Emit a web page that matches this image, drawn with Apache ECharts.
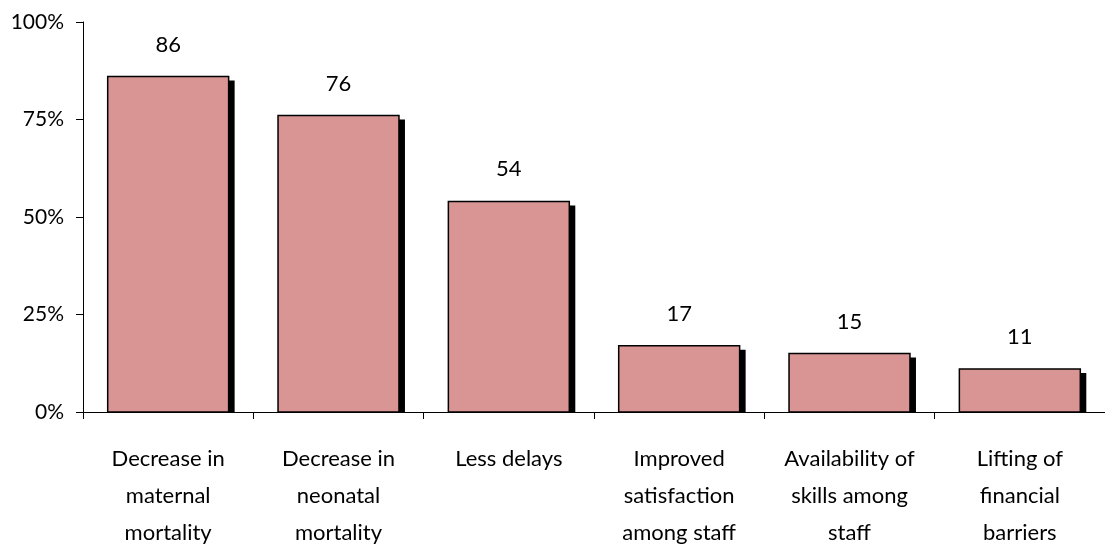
<!DOCTYPE html>
<html>
<head>
<meta charset="utf-8">
<script src="https://cdn.jsdelivr.net/npm/echarts@6/dist/echarts.min.js"></script>
<style>
  html, body { margin: 0; padding: 0; background: #fff; overflow: hidden; }
  #chart { width: 1105px; height: 551px; }
</style>
</head>
<body>
<div id="chart"></div>
<script>
// Perceived effects, percent of respondents
const categories = [
  'Decrease in\nmaternal\nmortality',
  'Decrease in\nneonatal\nmortality',
  'Less delays',
  'Improved\nsatisfaction\namong staff',
  'Availability of\nskills among\nstaff',
  'Lifting of\nfinancial\nbarriers'
];
const values = [86, 76, 54, 17, 15, 11];
const yTicks = [0, 25, 50, 75, 100];

const FONT = 'Lato, "Open Sans", sans-serif';
const chart = echarts.init(document.getElementById('chart'));

chart.setOption({
  animation: false,
  grid: { left: 83, top: 22, width: 1032, height: 396, containLabel: false },
  xAxis: {
    type: 'category',
    data: categories,
    axisLine: { lineStyle: { color: '#000', width: 1 } },
    axisTick: { show: true, length: 7, lineStyle: { color: '#000' } },
    axisLabel: {
      color: '#000', fontFamily: FONT, fontSize: 22,
      lineHeight: 37, margin: 28, interval: 0
    }
  },
  yAxis: {
    type: 'value',
    min: yTicks[0], max: yTicks[yTicks.length - 1], interval: 25,
    splitLine: { show: false },
    axisLine: { show: true, lineStyle: { color: '#000', width: 1 } },
    axisTick: { show: true, length: 7, lineStyle: { color: '#000' } },
    axisLabel: {
      color: '#000', fontFamily: FONT, fontSize: 21, margin: 19,
      formatter: v => v + '%'
    }
  },
  series: [{
    type: 'custom',
    data: values.map((v, i) => [i, v]),
    encode: { x: 0, y: 1 },
    renderItem(params, api) {
      const v = api.value(1);
      const top = api.coord([api.value(0), v]);
      const base = api.coord([api.value(0), 0]);
      const band = api.size([1, 0])[0];
      const w = band * 0.71;
      const x = top[0] - w / 2;
      const h = base[1] - top[1];
      return {
        type: 'group',
        children: [
          // offset drop shadow
          { type: 'rect', shape: { x: x + 6, y: top[1] + 4, width: w, height: h - 4 },
            style: { fill: '#000' } },
          // bar body
          { type: 'rect', shape: { x: x, y: top[1], width: w, height: h },
            style: { fill: '#D99594', stroke: '#000', lineWidth: 1.5 } },
          // value label
          { type: 'text',
            style: { text: String(v), x: top[0], y: top[1] - 21,
                     align: 'center', verticalAlign: 'bottom',
                     fill: '#000', font: '22px ' + FONT } }
        ]
      };
    }
  }]
});
</script>
</body>
</html>
